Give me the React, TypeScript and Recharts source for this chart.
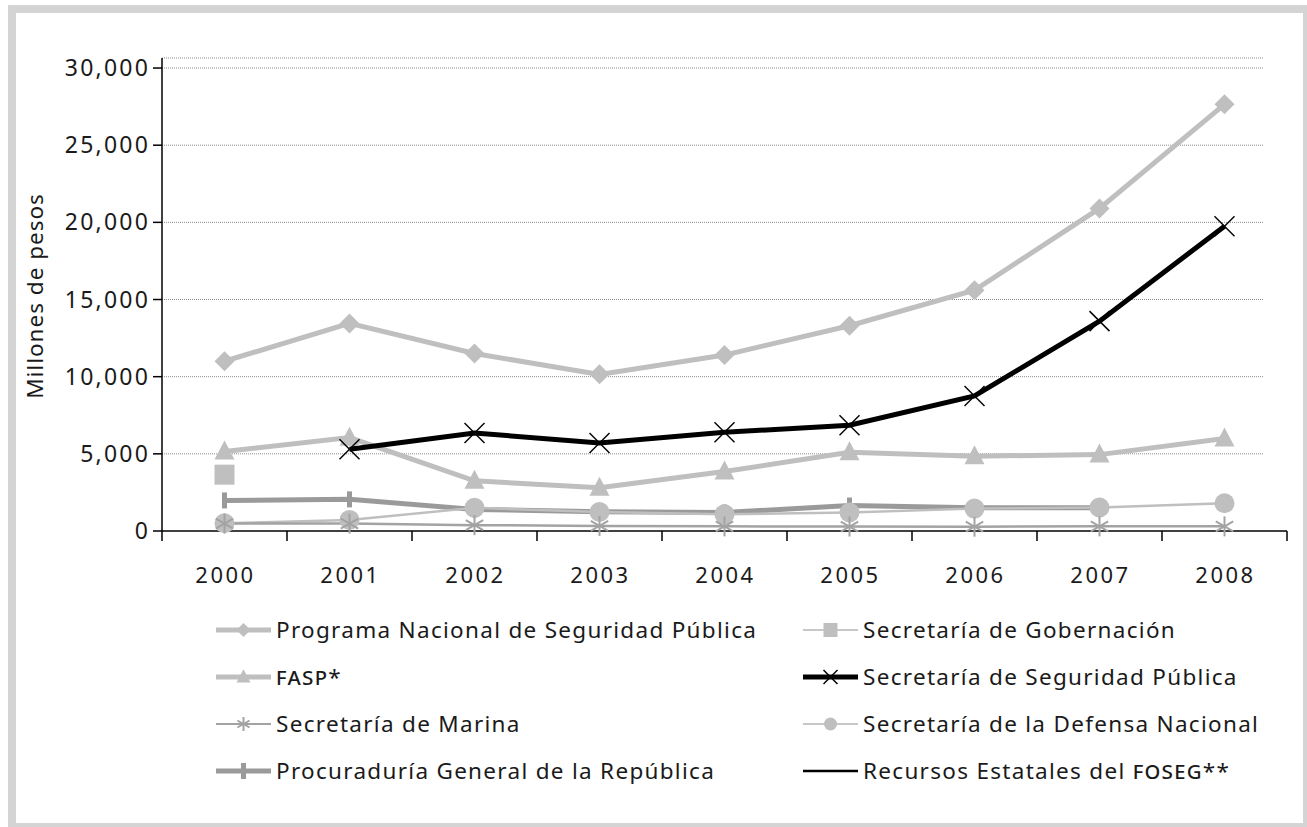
import React from 'react';
import { LineChart, Line, XAxis, YAxis, CartesianGrid, Legend, Label } from 'recharts';

const years = ['2000', '2001', '2002', '2003', '2004', '2005', '2006', '2007', '2008'];
const programaNacional = [11000, 13450, 11500, 10150, 11400, 13300, 15600, 20900, 27650];
const gobernacion = [3650, null, null, null, null, null, null, null, null];
const fasp = [5150, 6050, 3250, 2800, 3850, 5100, 4850, 4950, 6000];
const seguridadPublica = [null, 5300, 6350, 5700, 6400, 6850, 8750, 13600, 19750];
const marina = [480, 480, 380, 330, 300, 290, 280, 300, 300];
const defensa = [500, 720, 1500, 1230, 1080, 1200, 1450, 1520, 1800];
const procuraduria = [1980, 2050, 1400, 1250, 1200, 1650, 1500, 1500, null];
const foseg = [null, null, null, null, null, null, null, null, null];
const yTicks = [0, 5000, 10000, 15000, 20000, 25000, 30000];

const data = years.map((year, i) => ({
  year,
  programa: programaNacional[i],
  gobernacion: gobernacion[i],
  fasp: fasp[i],
  ssp: seguridadPublica[i],
  marina: marina[i],
  defensa: defensa[i],
  pgr: procuraduria[i],
  foseg: foseg[i],
}));

const LIGHT = '#bfbfbf';
const DARK = '#9a9a9a';
const MARINA = '#a3a3a3';
const FONT = '"Noto Sans", "Open Sans", sans-serif';

// marker shapes, s = half size
const marker = (kind: string, cx: number, cy: number, s: number, key?: string) => {
  switch (kind) {
    case 'diamond':
      return <path key={key} d={`M${cx},${cy - s} L${cx + s},${cy} L${cx},${cy + s} L${cx - s},${cy} Z`} fill={LIGHT} />;
    case 'triangle':
      return <path key={key} d={`M${cx},${cy - s * 1.1} L${cx + s},${cy + s * 0.8} L${cx - s},${cy + s * 0.8} Z`} fill={LIGHT} />;
    case 'square':
      return <rect key={key} x={cx - s} y={cy - s} width={s * 2} height={s * 2} fill={LIGHT} />;
    case 'cross':
      return (
        <g key={key} stroke="#000" strokeWidth={1.5}>
          <line x1={cx - s} y1={cy - s} x2={cx + s} y2={cy + s} />
          <line x1={cx - s} y1={cy + s} x2={cx + s} y2={cy - s} />
        </g>
      );
    case 'asterisk':
      return (
        <g key={key} stroke={MARINA} strokeWidth={2}>
          <line x1={cx} y1={cy - s} x2={cx} y2={cy + s} />
          <line x1={cx - s * 0.87} y1={cy - s * 0.5} x2={cx + s * 0.87} y2={cy + s * 0.5} />
          <line x1={cx - s * 0.87} y1={cy + s * 0.5} x2={cx + s * 0.87} y2={cy - s * 0.5} />
        </g>
      );
    case 'circle':
      return <circle key={key} cx={cx} cy={cy} r={s} fill={LIGHT} />;
    case 'bar':
      return <rect key={key} x={cx - 2.5} y={cy - s} width={5} height={s * 2} fill={DARK} />;
    default:
      return <g key={key} />;
  }
};

const dotOf = (kind: string, size: number, name: string) => (props: any) => {
  const { cx, cy, index, value } = props;
  const k = `${name}-${index}`;
  if (value == null || cx == null || cy == null) return <g key={k} />;
  return marker(kind, cx, cy, size, k);
};

const XTick = (props: any) => {
  const { x, y, payload, index, visibleTicksCount } = props;
  const half = 62.5;
  return (
    <g>
      <line x1={x - half} y1={y} x2={x - half} y2={y + 10} stroke="#000" strokeWidth={1.5} />
      {index === visibleTicksCount - 1 && (
        <line x1={x + half} y1={y} x2={x + half} y2={y + 10} stroke="#000" strokeWidth={1.5} />
      )}
      <text x={x + 1} y={y + 52} textAnchor="middle" fontSize={22} fill="#1a1a1a" fontFamily={FONT}
        style={{ letterSpacing: 2.5 }}>
        {payload.value}
      </text>
    </g>
  );
};

const YTick = (props: any) => {
  const { x, y, payload } = props;
  return (
    <text x={x + 2} y={y + 8} textAnchor="end" fontSize={23} fill="#1a1a1a" fontFamily={FONT}
      style={{ letterSpacing: 2.2 }}>
      {Number(payload.value).toLocaleString('en-US')}
    </text>
  );
};

const GridLine = (props: any) => {
  const { x1, x2, y1, y2 } = props;
  if (Math.abs(y1 - 531) < 2) return <g />;
  return <line x1={x1} y1={y1} x2={x2 - 24} y2={y2} stroke="#8c8c8c" strokeWidth={1} strokeDasharray="1 1" />;
};

const legendItems = [
  { name: 'Programa Nacional de Seguridad Pública', color: LIGHT, width: 5, kind: 'diamond', size: 7 },
  { name: '', sc: 'fasp', suffix: '*', color: LIGHT, width: 5, kind: 'triangle', size: 7 },
  { name: 'Secretaría de Marina', color: MARINA, width: 2, kind: 'asterisk', size: 7 },
  { name: 'Procuraduría General de la República', color: DARK, width: 5, kind: 'bar', size: 8 },
  { name: 'Secretaría de Gobernación', color: '#c8c8c8', width: 2, kind: 'square', size: 7 },
  { name: 'Secretaría de Seguridad Pública', color: '#000', width: 5, kind: 'cross', size: 7 },
  { name: 'Secretaría de la Defensa Nacional', color: '#c8c8c8', width: 2, kind: 'circle', size: 6.5 },
  { name: 'Recursos Estatales del ', sc: 'foseg', suffix: '**', color: '#000', width: 2.5, kind: 'none', size: 0 },
];

const legendRows = [39, 86, 133, 180];

const renderLegend = () => (
  <svg width={1307} height={236} style={{ display: 'block' }}>
    {legendItems.map((it, i) => {
      const col = i < 4 ? 0 : 1;
      const cy = legendRows[i % 4];
      const left = col === 0 ? 216 : 803;
      const cx = left + 27.5;
      return (
        <g key={i}>
          <line x1={left} y1={cy} x2={left + 55} y2={cy} stroke={it.color} strokeWidth={it.width} />
          {marker(it.kind, cx, cy, it.size)}
          <text x={left + 60} y={cy + 8} fontSize={22.5} fill="#1a1a1a" fontFamily={FONT} style={{ letterSpacing: 1.3 }}>
            {it.name}
            {it.sc && <tspan style={{ fontVariant: 'small-caps' }} fontSize={25}>{it.sc}</tspan>}
            {it.suffix}
          </text>
        </g>
      );
    })}
  </svg>
);

export default function App() {
  return (
    <div style={{ position: 'absolute', left: 0, top: 0, width: 1307, height: 827, overflow: 'hidden', background: '#fff' }}>
      <div style={{ position: 'absolute', left: 8, top: 5, width: 1303, height: 826, border: '8px solid #d4d4d4', boxSizing: 'border-box' }} />
      <div style={{ position: 'absolute', left: 0, top: 0 }}>
        <LineChart width={1307} height={827} data={data} margin={{ top: 58, right: 20, left: 0, bottom: 0 }}>
          <CartesianGrid vertical={false} horizontal={GridLine} />
          <XAxis dataKey="year" padding={{ left: 62.5, right: 62.5 }} tickLine={false} tickSize={0} tickMargin={0}
            axisLine={{ stroke: '#000', strokeWidth: 1.5 }} height={60} interval={0} tick={<XTick />} />
          <YAxis width={162} domain={[0, 30650]} ticks={yTicks} tickSize={9} tickMargin={5}
            axisLine={{ stroke: '#000', strokeWidth: 1.5 }} tickLine={{ stroke: '#000', strokeWidth: 1.5 }}
            tick={<YTick />}>
            <Label content={() => (
              <text x={43} y={296} transform="rotate(-90 43 296)" textAnchor="middle" fontSize={22.5} fill="#1a1a1a"
                fontFamily={FONT} style={{ letterSpacing: 1.0 }}>
                Millones de pesos
              </text>
            )} />
          </YAxis>
          <Legend verticalAlign="bottom" content={renderLegend} wrapperStyle={{ left: 0, width: 1307, height: 236 }} />
          <Line dataKey="programa" name="Programa Nacional de Seguridad Pública" stroke={LIGHT} strokeWidth={5}
            dot={dotOf('diamond', 10, 'programa')} activeDot={false} isAnimationActive={false} />
          <Line dataKey="gobernacion" name="Secretaría de Gobernación" stroke={LIGHT} strokeWidth={2}
            dot={dotOf('square', 10, 'gobernacion')} activeDot={false} isAnimationActive={false} />
          <Line dataKey="fasp" name="FASP*" stroke={LIGHT} strokeWidth={5}
            dot={dotOf('triangle', 10, 'fasp')} activeDot={false} isAnimationActive={false} />
          <Line dataKey="pgr" name="Procuraduría General de la República" stroke={DARK} strokeWidth={5}
            dot={dotOf('bar', 8, 'pgr')} activeDot={false} isAnimationActive={false} />
          <Line dataKey="defensa" name="Secretaría de la Defensa Nacional" stroke={LIGHT} strokeWidth={2.5}
            dot={dotOf('circle', 10, 'defensa')} activeDot={false} isAnimationActive={false} />
          <Line dataKey="marina" name="Secretaría de Marina" stroke={MARINA} strokeWidth={2.5}
            dot={dotOf('asterisk', 10, 'marina')} activeDot={false} isAnimationActive={false} />
          <Line dataKey="ssp" name="Secretaría de Seguridad Pública" stroke="#000" strokeWidth={5}
            dot={dotOf('cross', 10, 'ssp')} activeDot={false} isAnimationActive={false} />
          <Line dataKey="foseg" name="Recursos Estatales del FOSEG**" stroke="#000" strokeWidth={2.5}
            dot={false} activeDot={false} isAnimationActive={false} />
        </LineChart>
      </div>
    </div>
  );
}
